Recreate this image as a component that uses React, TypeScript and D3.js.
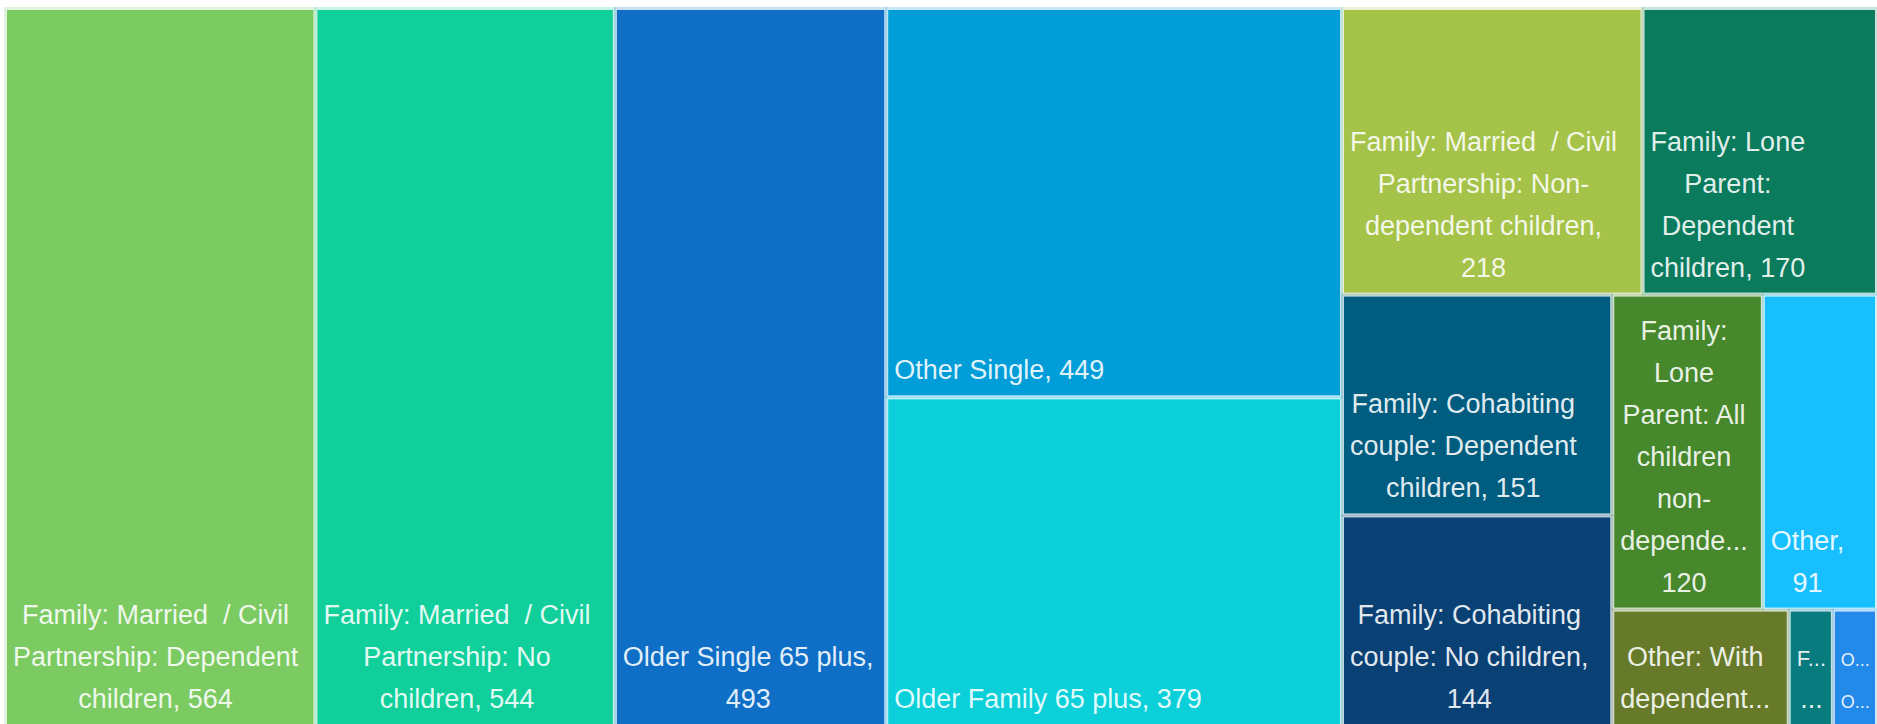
import React, { useMemo } from 'react';
import * as d3 from 'd3';

const W = 1877;
const H = 724;

// Data
const categories = [
  'Family: Married  / Civil Partnership: Dependent children',
  'Family: Married  / Civil Partnership: No children',
  'Older Single 65 plus',
  'Other Single',
  'Older Family 65 plus',
  'Family: Married  / Civil Partnership: Non-dependent children',
  'Family: Lone Parent: Dependent children',
  'Family: Cohabiting couple: Dependent children',
  'Family: Cohabiting couple: No children',
  'Family: Lone Parent: All children non-dependent',
  'Other',
  'Other: With dependent children',
  'Family: Other',
  'Other: Other',
];
const values = [564, 544, 493, 449, 379, 218, 170, 151, 144, 120, 91, 52, 13, 13];
const colors = [
  '#7CCA62', '#10CF9B', '#0F6FC6', '#009DD9', '#0BD0D9', '#A5C249', '#0A7B5D',
  '#005D80', '#0A4175', '#47882D', '#17BFFF', '#667A2A', '#087B7F', '#238AEA',
];
// Wrapped label lines as displayed ({v} = value)
const labelLines: string[][] = [
  ['Family: Married  / Civil', 'Partnership: Dependent', 'children, {v}'],
  ['Family: Married  / Civil', 'Partnership: No', 'children, {v}'],
  ['Older Single 65 plus,', '{v}'],
  ['Other Single, {v}'],
  ['Older Family 65 plus, {v}'],
  ['Family: Married  / Civil', 'Partnership: Non-', 'dependent children,', '{v}'],
  ['Family: Lone', 'Parent:', 'Dependent', 'children, {v}'],
  ['Family: Cohabiting', 'couple: Dependent', 'children, {v}'],
  ['Family: Cohabiting', 'couple: No children,', '{v}'],
  ['Family:', 'Lone', 'Parent: All', 'children', 'non-', 'depende...', '{v}'],
  ['Other,', '{v}'],
  ['Other: With', 'dependent...'],
  ['F...', '...'],
  ['O...', 'O...'],
];
// Tiling structure (indices into the arrays above), slice/dice alternating by depth
const tiling: any[] = [0, 1, 2, [3, 4], [[5, 6], [[7, 8], [[9, 10], [11, 12, 13]]]]];

const FAMILY = "'Liberation Sans', Arial, sans-serif";
const FS = 27;
const LINE = 42;
const GAP = 2; // inset on each side of a cell

function build(node: any): any {
  if (typeof node === 'number') return { idx: node };
  return { children: node.map(build) };
}

export default function App() {
  const leaves = useMemo(() => {
    const root = d3
      .hierarchy(build(tiling))
      .sum((d: any) => (d.idx !== undefined ? values[d.idx] : 0));
    d3.treemap<any>()
      .tile(d3.treemapSliceDice)
      .size([W - 5, 726 - 8])
      .paddingInner(0)(root);
    return root.leaves();
  }, []);

  const ctx = useMemo(() => {
    const c = document.createElement('canvas').getContext('2d')!;
    c.font = `${FS}px ${FAMILY}`;
    return c;
  }, []);

  const ox = 5;
  const oy = 8;

  const cells = leaves.map((l: any) => ({
    i: l.data.idx as number,
    x0: l.x0 + GAP,
    y0: l.y0 + GAP,
    x1: l.x1 - GAP,
    y1: l.y1 - GAP,
  }));

  return (
    <svg
      width={W}
      height={H}
      style={{ position: 'absolute', left: 0, top: 0, display: 'block', background: '#fff' }}
    >
      <g transform={`translate(${ox},${oy})`}>
        {cells.map((c) => (
          <rect
            key={'h' + c.i}
            x={c.x0 - 3}
            y={c.y0 - 3}
            width={c.x1 - c.x0 + 6}
            height={c.y1 - c.y0 + 6}
            fill={colors[c.i]}
            opacity={0.22}
          />
        ))}
        {cells.map((c) => (
          <rect
            key={'c' + c.i}
            x={c.x0}
            y={c.y0}
            width={c.x1 - c.x0}
            height={c.y1 - c.y0}
            fill={colors[c.i]}
          >
            <title>{`${categories[c.i]}, ${values[c.i]}`}</title>
          </rect>
        ))}
        {cells.map((c) => {
          const i = c.i;
          const lines = labelLines[i].map((s) => s.replace('{v}', String(values[i])));
          const avail = c.x1 - c.x0 - 10;
          const widths = lines.map((s) => ctx.measureText(s).width);
          const sizes = widths.map((w) => (w > avail ? Math.floor((FS * avail) / w) : FS));
          const bw = Math.max(...widths.map((w, k) => (w * sizes[k]) / FS));
          const cx = c.x0 + 6 + bw / 2;
          const lastBase = c.y1 - 16;
          const n = lines.length;
          return (
            <text
              key={'t' + i}
              fill="#ffffff"
              fillOpacity={0.9}
              textAnchor="middle"
              style={{ fontFamily: FAMILY, whiteSpace: 'pre' }}
            >
              {lines.map((s, k) => (
                <tspan key={k} x={cx} y={lastBase - (n - 1 - k) * LINE} fontSize={sizes[k]}>
                  {s}
                </tspan>
              ))}
            </text>
          );
        })}
      </g>
    </svg>
  );
}
